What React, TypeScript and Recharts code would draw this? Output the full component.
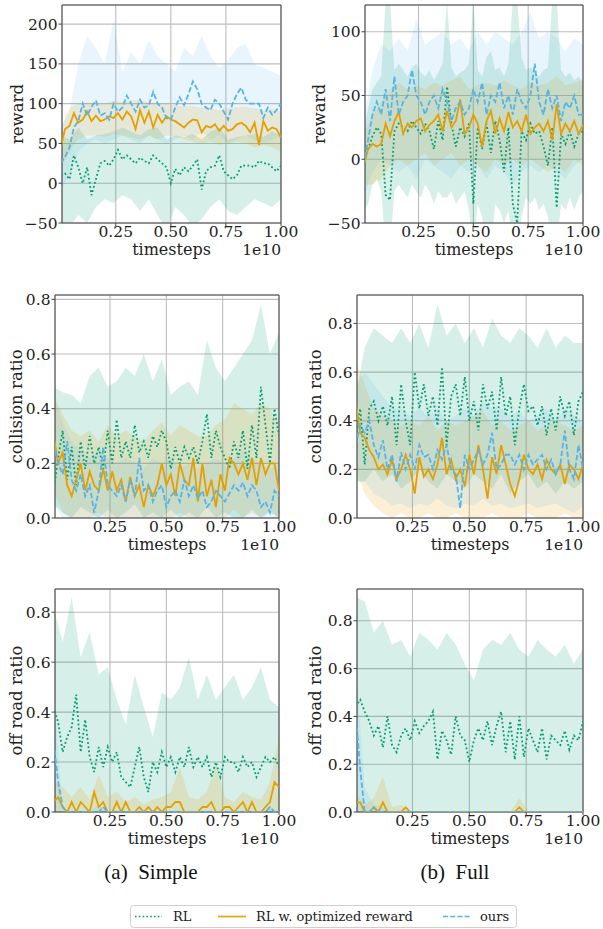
import React from "react";
import { ComposedChart, Line, Area, XAxis, YAxis, CartesianGrid, ReferenceArea } from "recharts";

// x grid for the mean curves and for the shaded bands (units of 1e10 timesteps)
const timesteps = [
  0, 0.02, 0.04, 0.06, 0.08, 0.1, 0.12, 0.14, 0.16, 0.18, 0.2, 0.22, 0.24, 0.26, 0.28, 0.3, 0.32,
  0.34, 0.36, 0.38, 0.4, 0.42, 0.44, 0.46, 0.48, 0.5, 0.52, 0.54, 0.56, 0.58, 0.6, 0.62, 0.64, 0.66,
  0.68, 0.7, 0.72, 0.74, 0.76, 0.78, 0.8, 0.82, 0.84, 0.86, 0.88, 0.9, 0.92, 0.94, 0.96, 0.98, 1.0,
];
const bandTimesteps = [
  0, 0.04, 0.08, 0.12, 0.16, 0.2, 0.24, 0.28, 0.32, 0.36, 0.4, 0.44, 0.48, 0.52, 0.56, 0.6, 0.64,
  0.68, 0.72, 0.76, 0.8, 0.84, 0.88, 0.92, 0.96, 1.0,
];
const xTicks = [0.25, 0.5, 0.75, 1.0];
const rewardTicksSimple = [-50, 0, 50, 100, 150, 200];
const rewardTicksFull = [-50, 0, 50, 100];
const ratioTicks = [0, 0.2, 0.4, 0.6, 0.8];
const bandFloor = [0, 0, 0, 0, 0, 0, 0, 0, 0, 0, 0, 0, 0, 0, 0, 0, 0, 0, 0, 0, 0, 0, 0, 0, 0, 0];

const seriesNames = ["RL", "RL w. optimized reward", "ours"];

// ---- (a) Simple: reward
const simpleRewardRL = [10, 12, 5, 35, 20, 0, 20, -15, 5, 25, 28, 22, 30, 42, 30, 35, 30, 25, 32, 28, 25, 35, 30, 25, 20, 0, 18, 10, 20, 15, 22, 30, -8, 15, 20, 22, 35, 15, 10, 5, 10, 22, 22, 22, 20, 28, 25, 25, 20, 15, 22];
const simpleRewardOpt = [45, 68, 72, 88, 76, 80, 90, 78, 85, 78, 80, 84, 82, 88, 80, 90, 84, 68, 92, 76, 90, 70, 86, 76, 84, 80, 78, 74, 70, 76, 80, 79, 64, 72, 70, 74, 66, 72, 66, 68, 74, 76, 72, 64, 76, 48, 78, 66, 70, 68, 57];
const simpleRewardOurs = [25, 33, 45, 70, 78, 100, 85, 96, 104, 85, 88, 80, 100, 90, 95, 110, 100, 90, 105, 95, 98, 115, 100, 95, 82, 80, 95, 108, 98, 112, 128, 118, 100, 95, 92, 105, 100, 90, 80, 100, 112, 120, 105, 100, 100, 100, 82, 95, 86, 92, 100];
const simpleRewardRLLo = [-60, -55, -40, -50, -30, -20, -25, -15, -20, -35, -20, -40, -60, -30, -40, -55, -45, -30, -20, -35, -40, -30, -20, -25, -30, -20];
const simpleRewardRLHi = [60, 55, 70, 55, 60, 62, 65, 70, 65, 60, 68, 70, 55, 60, 58, 62, 55, 65, 70, 55, 58, 60, 62, 58, 65, 60];
const simpleRewardOptLo = [20, 40, 55, 60, 60, 58, 62, 60, 58, 55, 60, 55, 60, 58, 55, 52, 50, 52, 48, 50, 52, 50, 45, 48, 45, 40];
const simpleRewardOptHi = [70, 95, 100, 102, 100, 100, 104, 102, 105, 104, 102, 100, 100, 98, 96, 97, 95, 94, 92, 95, 96, 96, 94, 92, 94, 90];
const simpleRewardOursLo = [-10, 10, 40, 50, 55, 50, 55, 60, 55, 50, 60, 55, 50, 55, 60, 55, 65, 55, 60, 50, 55, 60, 55, 50, 55, 60];
const simpleRewardOursHi = [70, 90, 150, 185, 170, 150, 205, 140, 165, 150, 180, 160, 150, 140, 170, 160, 185, 160, 145, 155, 170, 175, 150, 145, 140, 135];

// ---- (b) Full: reward (RL band sampled on the fine grid, it has narrow spikes)
const fullRewardRL = [-5, 8, 18, 25, 20, -28, -32, 22, 28, 25, 22, 30, 25, 20, 28, 22, 8, 30, 15, 57, 28, 10, 25, 18, 28, -35, 25, 8, 28, 5, 30, 15, -10, 25, -35, -50, 22, 15, 28, 20, 22, 10, -5, 25, -38, 20, 12, 22, 10, 20, 22];
const fullRewardOpt = [-5, 8, 12, 10, 12, 28, 18, 30, 37, 20, 28, 25, 30, 32, 22, 27, 30, 35, 22, 38, 25, 30, 47, 20, 25, 35, 28, 10, 30, 38, 20, 32, 22, 37, 25, 30, 22, 35, 20, 25, 28, 22, 30, 15, 43, 20, 28, 22, 30, 20, 27];
const fullRewardOurs = [-5, 15, 35, 45, 35, 55, 30, 65, 35, 45, 50, 70, 50, 45, 35, 45, 50, 40, 55, 45, 30, 40, 45, 35, 40, 55, 45, 60, 35, 50, 45, 60, 40, 50, 35, 55, 45, 40, 50, 75, 45, 35, 55, 40, 50, 30, 45, 40, 50, 35, 35];
const fullRewardRLLo = [-40, -35, -20, -15, -25, -70, -70, -25, -20, -25, -30, -20, -25, -30, -20, -25, -35, -25, -30, -30, -25, -35, -30, -25, -40, -70, -35, -45, -70, -70, -35, -40, -50, -40, -70, -70, -45, -30, -35, -30, -40, -35, -45, -70, -70, -35, -40, -30, -40, -30, -25];
const fullRewardRLHi = [20, 40, 55, 60, 65, 125, 125, 70, 75, 70, 65, 72, 75, 68, 65, 70, 62, 68, 75, 125, 72, 65, 68, 70, 75, 125, 70, 65, 80, 85, 70, 72, 65, 75, 125, 125, 80, 70, 72, 68, 65, 70, 72, 125, 125, 70, 65, 68, 62, 65, 60];
const fullRewardOptLo = [-20, -20, -15, -5, 0, -5, 0, 5, -5, 0, 5, -5, 0, -5, -10, 0, -5, 0, -5, 0, -5, -10, -5, -10, 0, -5];
const fullRewardOptHi = [20, 35, 45, 55, 60, 55, 58, 55, 60, 58, 62, 65, 55, 58, 60, 58, 62, 58, 55, 60, 58, 60, 65, 58, 60, 62];
const fullRewardOursLo = [-30, -10, 0, -5, -10, -5, -15, 0, -5, -10, -15, -5, -10, -5, -15, -5, -10, -20, -10, -5, -10, -5, -10, -15, -5, 0];
const fullRewardOursHi = [30, 70, 90, 85, 95, 85, 110, 90, 95, 100, 90, 95, 85, 100, 90, 100, 95, 90, 100, 115, 95, 100, 95, 85, 95, 90];

// ---- (a) Simple: collision ratio
const simpleCollisionRL = [0.10, 0.22, 0.32, 0.14, 0.26, 0.12, 0.28, 0.18, 0.30, 0.20, 0.26, 0.18, 0.32, 0.20, 0.36, 0.22, 0.28, 0.22, 0.34, 0.24, 0.28, 0.22, 0.30, 0.26, 0.32, 0.28, 0.18, 0.26, 0.20, 0.26, 0.22, 0.26, 0.20, 0.28, 0.38, 0.22, 0.32, 0.26, 0.22, 0.18, 0.28, 0.22, 0.32, 0.18, 0.34, 0.22, 0.48, 0.34, 0.20, 0.40, 0.30];
const simpleCollisionOpt = [0.30, 0.20, 0.24, 0.12, 0.08, 0.14, 0.20, 0.10, 0.17, 0.12, 0.10, 0.18, 0.10, 0.17, 0.10, 0.14, 0.06, 0.15, 0.08, 0.12, 0.04, 0.12, 0.08, 0.12, 0.20, 0.12, 0.16, 0.08, 0.20, 0.14, 0.12, 0.22, 0.06, 0.20, 0.08, 0.14, 0.04, 0.16, 0.10, 0.22, 0.20, 0.16, 0.20, 0.14, 0.22, 0.12, 0.22, 0.16, 0.20, 0.20, 0.10];
const simpleCollisionOurs = [0.27, 0.20, 0.16, 0.28, 0.14, 0.10, 0.16, 0.08, 0.12, 0.02, 0.10, 0.26, 0.12, 0.10, 0.08, 0.12, 0.06, 0.14, 0.08, 0.22, 0.10, 0.12, 0.06, 0.10, 0.12, 0.04, 0.08, 0.10, 0.06, 0.14, 0.08, 0.12, 0.07, 0.10, 0.04, 0.06, 0.10, 0.08, 0.06, 0.09, 0.12, 0.10, 0.13, 0.08, 0.12, 0.10, 0.04, 0.06, 0.02, 0.10, 0.08];
const simpleCollisionRLLo = [0.05, 0.02, 0.0, 0.04, 0.02, 0.0, 0.03, 0.0, 0.02, 0.05, 0.0, 0.02, 0.0, 0.03, 0.0, 0.02, 0.0, 0.04, 0.0, 0.02, 0.0, 0.0, 0.03, 0.0, 0.02, 0.0];
const simpleCollisionRLHi = [0.48, 0.46, 0.45, 0.42, 0.52, 0.55, 0.48, 0.50, 0.55, 0.52, 0.60, 0.50, 0.58, 0.45, 0.48, 0.50, 0.45, 0.65, 0.55, 0.50, 0.55, 0.60, 0.65, 0.78, 0.60, 0.68];
const simpleCollisionOptLo = [0.10, 0.02, 0.0, 0.0, 0.0, 0.02, 0.0, 0.0, 0.0, 0.0, 0.0, 0.0, 0.0, 0.0, 0.02, 0.0, 0.0, 0.0, 0.0, 0.0, 0.03, 0.0, 0.02, 0.0, 0.03, 0.0];
const simpleCollisionOptHi = [0.45, 0.38, 0.32, 0.30, 0.32, 0.28, 0.34, 0.30, 0.32, 0.30, 0.28, 0.32, 0.35, 0.30, 0.34, 0.32, 0.30, 0.30, 0.34, 0.36, 0.42, 0.40, 0.38, 0.42, 0.40, 0.35];
const simpleCollisionOursLo = [0.05, 0.0, 0.0, 0.0, 0.0, 0.0, 0.0, 0.0, 0.0, 0.0, 0.0, 0.0, 0.0, 0.0, 0.0, 0.0, 0.0, 0.0, 0.0, 0.0, 0.0, 0.0, 0.0, 0.0, 0.0, 0.0];
const simpleCollisionOursHi = [0.45, 0.35, 0.28, 0.25, 0.22, 0.25, 0.22, 0.20, 0.22, 0.20, 0.18, 0.22, 0.20, 0.22, 0.18, 0.20, 0.18, 0.20, 0.22, 0.20, 0.22, 0.25, 0.22, 0.20, 0.18, 0.20];

// ---- (b) Full: collision ratio
const fullCollisionRL = [0.32, 0.45, 0.22, 0.45, 0.48, 0.40, 0.46, 0.38, 0.50, 0.30, 0.55, 0.40, 0.30, 0.60, 0.45, 0.55, 0.42, 0.50, 0.38, 0.62, 0.30, 0.50, 0.55, 0.42, 0.58, 0.40, 0.48, 0.36, 0.55, 0.45, 0.52, 0.36, 0.58, 0.42, 0.50, 0.30, 0.45, 0.55, 0.44, 0.46, 0.38, 0.46, 0.34, 0.45, 0.36, 0.50, 0.42, 0.48, 0.34, 0.48, 0.52];
const fullCollisionOpt = [0.48, 0.35, 0.33, 0.28, 0.25, 0.20, 0.22, 0.18, 0.24, 0.16, 0.20, 0.26, 0.20, 0.10, 0.25, 0.17, 0.20, 0.16, 0.22, 0.33, 0.18, 0.24, 0.16, 0.20, 0.13, 0.26, 0.18, 0.30, 0.20, 0.08, 0.25, 0.18, 0.30, 0.22, 0.14, 0.09, 0.16, 0.26, 0.20, 0.18, 0.22, 0.16, 0.24, 0.20, 0.18, 0.22, 0.14, 0.22, 0.20, 0.16, 0.22];
const fullCollisionOurs = [0.30, 0.38, 0.35, 0.40, 0.30, 0.25, 0.32, 0.20, 0.26, 0.15, 0.27, 0.20, 0.26, 0.20, 0.30, 0.25, 0.26, 0.20, 0.28, 0.24, 0.30, 0.20, 0.18, 0.04, 0.26, 0.20, 0.24, 0.28, 0.22, 0.26, 0.35, 0.20, 0.22, 0.26, 0.26, 0.22, 0.26, 0.20, 0.26, 0.22, 0.24, 0.26, 0.20, 0.24, 0.18, 0.22, 0.36, 0.20, 0.16, 0.30, 0.20];
const fullCollisionRLLo = [0.15, 0.15, 0.20, 0.15, 0.18, 0.12, 0.15, 0.20, 0.15, 0.12, 0.18, 0.15, 0.12, 0.18, 0.15, 0.12, 0.18, 0.10, 0.15, 0.18, 0.12, 0.15, 0.10, 0.15, 0.12, 0.15];
const fullCollisionRLHi = [0.50, 0.70, 0.78, 0.75, 0.72, 0.78, 0.72, 0.80, 0.70, 0.88, 0.75, 0.80, 0.72, 0.78, 0.70, 0.82, 0.75, 0.72, 0.78, 0.75, 0.70, 0.78, 0.70, 0.75, 0.72, 0.72];
const fullCollisionOptLo = [0.20, 0.10, 0.05, 0.02, 0.0, 0.02, 0.0, 0.0, 0.02, 0.0, 0.0, 0.02, 0.0, 0.0, 0.0, 0.02, 0.0, 0.0, 0.0, 0.02, 0.0, 0.0, 0.0, 0.02, 0.0, 0.0];
const fullCollisionOptHi = [0.65, 0.55, 0.45, 0.42, 0.40, 0.38, 0.40, 0.38, 0.42, 0.36, 0.40, 0.38, 0.40, 0.42, 0.44, 0.38, 0.40, 0.36, 0.38, 0.40, 0.36, 0.38, 0.40, 0.38, 0.36, 0.38];
const fullCollisionOursLo = [0.15, 0.15, 0.10, 0.08, 0.05, 0.06, 0.04, 0.06, 0.05, 0.08, 0.05, 0.04, 0.06, 0.05, 0.08, 0.05, 0.06, 0.04, 0.05, 0.06, 0.04, 0.05, 0.06, 0.04, 0.02, 0.05];
const fullCollisionOursHi = [0.55, 0.60, 0.55, 0.50, 0.45, 0.45, 0.42, 0.45, 0.42, 0.45, 0.40, 0.42, 0.45, 0.42, 0.48, 0.45, 0.45, 0.42, 0.44, 0.40, 0.42, 0.45, 0.40, 0.45, 0.42, 0.40];

// ---- (a) Simple: off road ratio
const simpleOffRoadRL = [0.42, 0.36, 0.24, 0.30, 0.34, 0.47, 0.24, 0.37, 0.22, 0.16, 0.26, 0.18, 0.26, 0.20, 0.24, 0.14, 0.12, 0.10, 0.18, 0.26, 0.14, 0.08, 0.20, 0.16, 0.24, 0.18, 0.22, 0.16, 0.22, 0.18, 0.26, 0.18, 0.22, 0.18, 0.22, 0.14, 0.20, 0.14, 0.22, 0.20, 0.20, 0.16, 0.22, 0.18, 0.20, 0.14, 0.18, 0.22, 0.20, 0.22, 0.18];
const simpleOffRoadOpt = [0.04, 0.06, 0.02, 0.0, 0.04, 0.0, 0.04, 0.02, 0.0, 0.08, 0.02, 0.04, 0.0, 0.0, 0.04, 0.0, 0.04, 0.0, 0.0, 0.02, 0.0, 0.02, 0.0, 0.02, 0.0, 0.02, 0.02, 0.04, 0.04, 0.0, 0.0, 0.0, 0.0, 0.02, 0.02, 0.04, 0.0, 0.0, 0.02, 0.02, 0.0, 0.02, 0.04, 0.0, 0.04, 0.0, 0.0, 0.02, 0.04, 0.12, 0.10];
const simpleOffRoadOurs = [0.28, 0.12, 0.02, 0.0, 0.0, 0.0, 0.0, 0.0, 0.0, 0.0, 0.0, 0.02, 0.0, 0.0, 0.0, 0.0, 0.0, 0.0, 0.0, 0.0, 0.0, 0.0, 0.0, 0.0, 0.0, 0.0, 0.0, 0.0, 0.0, 0.0, 0.0, 0.0, 0.0, 0.0, 0.0, 0.0, 0.0, 0.0, 0.0, 0.0, 0.0, 0.0, 0.0, 0.0, 0.0, 0.0, 0.0, 0.0, 0.02, 0.0, 0.0];
const simpleOffRoadRLHi = [0.82, 0.68, 0.86, 0.62, 0.72, 0.55, 0.58, 0.45, 0.35, 0.55, 0.42, 0.30, 0.48, 0.45, 0.50, 0.62, 0.45, 0.55, 0.45, 0.50, 0.55, 0.45, 0.50, 0.58, 0.45, 0.42];
const simpleOffRoadOptHi = [0.12, 0.10, 0.06, 0.10, 0.05, 0.15, 0.06, 0.08, 0.04, 0.06, 0.03, 0.05, 0.06, 0.08, 0.18, 0.06, 0.05, 0.08, 0.20, 0.06, 0.04, 0.08, 0.06, 0.05, 0.12, 0.30];
const simpleOffRoadOursHi = [0.50, 0.0, 0.0, 0.0, 0.0, 0.03, 0.0, 0.0, 0.0, 0.0, 0.0, 0.0, 0.0, 0.0, 0.0, 0.0, 0.0, 0.0, 0.0, 0.0, 0.0, 0.0, 0.0, 0.0, 0.02, 0.0];

// ---- (b) Full: off road ratio
const fullOffRoadRL = [0.44, 0.47, 0.42, 0.38, 0.32, 0.36, 0.27, 0.40, 0.28, 0.25, 0.32, 0.35, 0.30, 0.38, 0.33, 0.36, 0.38, 0.42, 0.22, 0.34, 0.30, 0.24, 0.40, 0.32, 0.30, 0.21, 0.30, 0.35, 0.30, 0.38, 0.28, 0.36, 0.42, 0.25, 0.38, 0.22, 0.40, 0.23, 0.35, 0.30, 0.25, 0.35, 0.22, 0.32, 0.30, 0.28, 0.34, 0.26, 0.32, 0.30, 0.38];
const fullOffRoadOpt = [0.04, 0.04, 0.0, 0.0, 0.02, 0.0, 0.04, 0.0, 0.0, 0.0, 0.0, 0.02, 0.0, 0.0, 0.0, 0.0, 0.0, 0.0, 0.0, 0.0, 0.0, 0.0, 0.0, 0.0, 0.0, 0.0, 0.0, 0.0, 0.0, 0.0, 0.0, 0.0, 0.0, 0.0, 0.0, 0.0, 0.02, 0.0, 0.0, 0.0, 0.0, 0.0, 0.0, 0.0, 0.0, 0.0, 0.0, 0.0, 0.0, 0.0, 0.0];
const fullOffRoadOurs = [0.42, 0.18, 0.0, 0.0, 0.02, 0.0, 0.0, 0.0, 0.0, 0.0, 0.0, 0.0, 0.0, 0.0, 0.0, 0.0, 0.0, 0.0, 0.0, 0.0, 0.0, 0.0, 0.0, 0.0, 0.0, 0.0, 0.0, 0.0, 0.0, 0.0, 0.0, 0.0, 0.0, 0.0, 0.0, 0.0, 0.0, 0.0, 0.0, 0.0, 0.0, 0.0, 0.0, 0.0, 0.0, 0.0, 0.0, 0.0, 0.0, 0.0, 0.0];
const fullOffRoadRLHi = [0.90, 0.88, 0.75, 0.80, 0.70, 0.72, 0.65, 0.75, 0.72, 0.68, 0.75, 0.70, 0.62, 0.55, 0.68, 0.72, 0.70, 0.75, 0.68, 0.65, 0.72, 0.68, 0.65, 0.70, 0.62, 0.68];
const fullOffRoadOptHi = [0.08, 0.03, 0.06, 0.15, 0.02, 0.03, 0, 0, 0, 0, 0, 0, 0, 0, 0, 0, 0, 0, 0.06, 0, 0, 0, 0, 0, 0, 0];
const fullOffRoadOursHi = [0.62, 0.10, 0.03, 0.02, 0, 0, 0, 0, 0, 0, 0, 0, 0, 0, 0, 0, 0, 0, 0, 0, 0, 0, 0, 0, 0, 0];

const GREEN = "#009e73";
const ORANGE = "#e69f00";
const BLUE = "#56b4e9";
const X0 = 0.006;
const FONT = "DejaVu Serif";

const lineRows = (ys: number[]) => timesteps.map((x, i) => ({ x, y: ys[i] }));
// a band is sampled either on the coarse band grid or on the fine line grid
const bandRows = (lo: number[], hi: number[]) => {
  const grid = lo.length === timesteps.length ? timesteps : bandTimesteps;
  return grid.map((x, i) => ({ x, y: [lo[i], hi[i]] }));
};

const fmtReward = (v: number) => (v < 0 ? "\u2212" + Math.abs(v) : String(v));
const fmtRatio = (v: number) => v.toFixed(1);
const fmtStep = (v: number) => v.toFixed(2);

// serif tick label, drawn by hand so the font family sticks
function TickLabel(props: any) {
  const { x, y, payload, fmt, anchor, dy } = props;
  return (
    <text x={x} y={y} dy={dy} textAnchor={anchor} fontFamily={FONT} fontSize={15.5} fill="#222">
      {fmt(payload.value)}
    </text>
  );
}

type PanelProps = {
  left: number;
  top: number;
  width: number;
  plot: { l: number; t: number; r: number; b: number };
  yDomain: [number, number];
  yTicks: number[];
  fmt: (v: number) => string;
  lines: number[][];
  bands: [number[], number[]][];
};

function Panel({ left, top, width, plot, yDomain, yTicks, fmt, lines, bands }: PanelProps) {
  const colors = [GREEN, ORANGE, BLUE];
  const dashes = ["1.8 2.4", undefined, "5.5 2.4"];
  return (
    <div style={{ position: "absolute", left, top }}>
      <ComposedChart
        width={width}
        height={plot.b - top + 24}
        margin={{ top: plot.t - top, right: left + width - plot.r, bottom: 0, left: 0 }}
      >
        <CartesianGrid stroke="#bdbdbd" strokeWidth={1.1} />
        <XAxis
          type="number"
          dataKey="x"
          domain={[X0, 1]}
          ticks={xTicks}
          interval={0}
          allowDataOverflow
          height={24}
          tick={(p: any) => <TickLabel {...p} fmt={fmtStep} anchor="middle" dy="0.71em" />}
          tickSize={3}
          tickMargin={0}
          axisLine={false}
          tickLine={{ stroke: "#444" }}
        />
        <YAxis
          type="number"
          domain={yDomain}
          ticks={yTicks}
          interval={0}
          allowDataOverflow
          width={plot.l - left}
          tick={(p: any) => <TickLabel {...p} fmt={fmt} anchor="end" dy="0.36em" />}
          tickSize={3.5}
          tickMargin={1}
          axisLine={false}
          tickLine={{ stroke: "#444" }}
        />
        {bands.map(([lo, hi], i) => (
          <Area
            key={"band" + i}
            data={bandRows(lo, hi)}
            dataKey="y"
            type="linear"
            stroke="none"
            fill={colors[i]}
            fillOpacity={i === 2 ? 0.13 : 0.16}
            isAnimationActive={false}
          />
        ))}
        {lines.map((ys, i) => (
          <Line
            key={"line" + i}
            name={seriesNames[i]}
            data={lineRows(ys)}
            dataKey="y"
            type="linear"
            stroke={colors[i]}
            strokeWidth={1.8}
            strokeDasharray={dashes[i]}
            dot={false}
            isAnimationActive={false}
          />
        ))}
        <ReferenceArea
          x1={X0}
          x2={1}
          y1={yDomain[0]}
          y2={yDomain[1]}
          fill="none"
          stroke="#444"
          strokeWidth={1}
        />
      </ComposedChart>
    </div>
  );
}

const panels: (PanelProps & { yLabel: string; labelX: number })[] = [
  {
    left: 0, top: 0, width: 300, plot: { l: 62, t: 5, r: 281, b: 223 },
    yDomain: [-50, 224], yTicks: rewardTicksSimple, fmt: fmtReward, yLabel: "reward", labelX: 17,
    lines: [simpleRewardRL, simpleRewardOpt, simpleRewardOurs],
    bands: [[simpleRewardRLLo, simpleRewardRLHi], [simpleRewardOptLo, simpleRewardOptHi], [simpleRewardOursLo, simpleRewardOursHi]],
  },
  {
    left: 300, top: 0, width: 303, plot: { l: 365, t: 5, r: 583, b: 223 },
    yDomain: [-50, 121], yTicks: rewardTicksFull, fmt: fmtReward, yLabel: "reward", labelX: 319,
    lines: [fullRewardRL, fullRewardOpt, fullRewardOurs],
    bands: [[fullRewardRLLo, fullRewardRLHi], [fullRewardOptLo, fullRewardOptHi], [fullRewardOursLo, fullRewardOursHi]],
  },
  {
    left: 0, top: 290, width: 300, plot: { l: 55, t: 295, r: 279, b: 518 },
    yDomain: [0, 0.816], yTicks: ratioTicks, fmt: fmtRatio, yLabel: "collision ratio", labelX: 16,
    lines: [simpleCollisionRL, simpleCollisionOpt, simpleCollisionOurs],
    bands: [[simpleCollisionRLLo, simpleCollisionRLHi], [simpleCollisionOptLo, simpleCollisionOptHi], [simpleCollisionOursLo, simpleCollisionOursHi]],
  },
  {
    left: 300, top: 290, width: 303, plot: { l: 357, t: 295, r: 583, b: 518 },
    yDomain: [0, 0.917], yTicks: ratioTicks, fmt: fmtRatio, yLabel: "collision ratio", labelX: 315,
    lines: [fullCollisionRL, fullCollisionOpt, fullCollisionOurs],
    bands: [[fullCollisionRLLo, fullCollisionRLHi], [fullCollisionOptLo, fullCollisionOptHi], [fullCollisionOursLo, fullCollisionOursHi]],
  },
  {
    left: 0, top: 584, width: 300, plot: { l: 55, t: 589, r: 279, b: 812 },
    yDomain: [0, 0.893], yTicks: ratioTicks, fmt: fmtRatio, yLabel: "off road ratio", labelX: 16,
    lines: [simpleOffRoadRL, simpleOffRoadOpt, simpleOffRoadOurs],
    bands: [[bandFloor, simpleOffRoadRLHi], [bandFloor, simpleOffRoadOptHi], [bandFloor, simpleOffRoadOursHi]],
  },
  {
    left: 300, top: 584, width: 303, plot: { l: 357, t: 589, r: 583, b: 812 },
    yDomain: [0, 0.933], yTicks: ratioTicks, fmt: fmtRatio, yLabel: "off road ratio", labelX: 315,
    lines: [fullOffRoadRL, fullOffRoadOpt, fullOffRoadOurs],
    bands: [[bandFloor, fullOffRoadRLHi], [bandFloor, fullOffRoadOptHi], [bandFloor, fullOffRoadOursHi]],
  },
];

export default function App() {
  return (
    <div style={{ position: "absolute", left: 0, top: 0, width: 603, height: 929, background: "#fff" }}>
      {panels.map((p, i) => (
        <Panel key={i} {...p} />
      ))}
      <svg width={603} height={929} style={{ position: "absolute", left: 0, top: 0, pointerEvents: "none" }}>
        {panels.map((p, i) => {
          const cy = (p.plot.t + p.plot.b) / 2;
          const base = p.plot.b + 32;
          return (
            <g key={i} fontFamily={FONT} fill="#222">
              <text x={p.labelX} y={cy} fontSize={16.5} textAnchor="middle" dominantBaseline="central" transform={`rotate(-90 ${p.labelX} ${cy})`}>
                {p.yLabel}
              </text>
              <text x={(p.plot.l + p.plot.r) / 2} y={base} fontSize={16} textAnchor="middle">
                timesteps
              </text>
              <text x={p.plot.r} y={base} fontSize={15.5} textAnchor="end">
                1e10
              </text>
            </g>
          );
        })}
        <g fontFamily="Liberation Serif" fontSize={21} fill="#111">
          <text x={151} y={879} textAnchor="middle">(a)&#160;&#160;Simple</text>
          <text x={455} y={879} textAnchor="middle">(b)&#160;&#160;Full</text>
        </g>
        <g fontFamily={FONT} fontSize={13} fill="#222">
          <rect x={130.5} y={905.5} width={386} height={22} rx={3} fill="#fff" stroke="#cfcfcf" />
          <line x1={135} y1={916.5} x2={162} y2={916.5} stroke={GREEN} strokeWidth={1.6} strokeDasharray="1.6 2.2" />
          <text x={173} y={921}>{seriesNames[0]}</text>
          <line x1={218} y1={916.5} x2={246} y2={916.5} stroke={ORANGE} strokeWidth={1.6} />
          <text x={256} y={921}>{seriesNames[1]}</text>
          <line x1={443} y1={916.5} x2={470} y2={916.5} stroke={BLUE} strokeWidth={1.6} strokeDasharray="5 2.2" />
          <text x={480} y={921}>{seriesNames[2]}</text>
        </g>
      </svg>
    </div>
  );
}
